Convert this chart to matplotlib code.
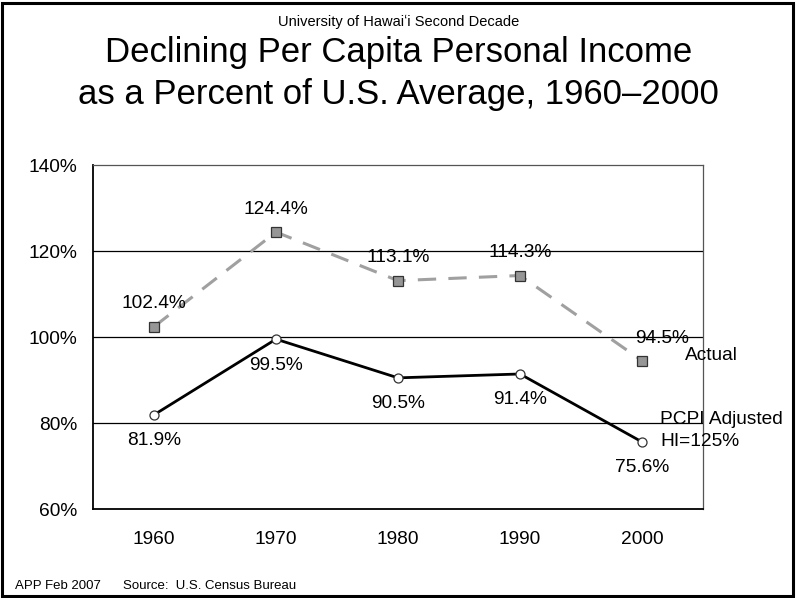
import matplotlib
matplotlib.use('Agg')
from matplotlib import pyplot as plt
from matplotlib.patches import Rectangle

plt.rcParams['font.family'] = ['Liberation Sans', 'DejaVu Sans']

years = ['1960', '1970', '1980', '1990', '2000']
actual = [102.4, 124.4, 113.1, 114.3, 94.5]
adjusted = [81.9, 99.5, 90.5, 91.4, 75.6]
y_ticks = [60, 80, 100, 120, 140]

W, H = 797, 598
fig = plt.figure(figsize=(W / 100, H / 100), dpi=100)
fig.patch.set_facecolor('white')

# slide border
fig.add_artist(Rectangle((2 / W, 2 / H), 1 - 6 / W, 1 - 5 / H, transform=fig.transFigure,
                         fill=False, edgecolor='black', linewidth=2.2))

# plot area in pixels: x 93..703, y 165..509
ax = fig.add_axes([93 / W, (H - 509) / H, 610 / W, 344 / H])
x = list(range(len(years)))

ax.plot(x, actual, color='#a0a0a0', linewidth=2.2, dashes=(6, 4),
        marker='s', markersize=6.5, markerfacecolor='#969696',
        markeredgecolor='#333333', markeredgewidth=0.9, zorder=3)
ax.plot(x, adjusted, color='black', linewidth=2.0,
        marker='o', markersize=6.5, markerfacecolor='white',
        markeredgecolor='#333333', markeredgewidth=0.9, zorder=3)

ax.set_xlim(-0.5, len(years) - 0.5)
ax.set_ylim(60, 140)
ax.set_yticks(y_ticks)
ax.set_yticklabels([f'{v}%' for v in y_ticks])
ax.set_xticks(x)
ax.set_xticklabels(years)
ax.tick_params(axis='both', length=0, labelsize=13.8)
ax.tick_params(axis='x', pad=16)
ax.tick_params(axis='y', pad=11)

for v in [80, 100, 120]:
    ax.axhline(v, color='black', linewidth=0.9, zorder=1)

ax.spines['left'].set_color('black')
ax.spines['bottom'].set_color('black')
ax.spines['left'].set_linewidth(1.3)
ax.spines['bottom'].set_linewidth(1.3)
ax.spines['top'].set_color('#555555')
ax.spines['right'].set_color('#555555')
ax.spines['top'].set_linewidth(0.9)
ax.spines['right'].set_linewidth(0.9)

# data labels
for i, v in enumerate(actual):
    dx, dy = (0, 23) if i < 4 else (20, 22)
    ax.annotate(f'{v}%', (i, v), xytext=(dx, dy), textcoords='offset pixels',
                ha='center', va='center', fontsize=13.8, zorder=4)
for i, v in enumerate(adjusted):
    ax.annotate(f'{v}%', (i, v), xytext=(0, -26), textcoords='offset pixels',
                ha='center', va='center', fontsize=13.8, zorder=4)

fig.text(685 / W, 1 - 355 / H, 'Actual', ha='left', va='center', fontsize=13.8)
fig.text(660 / W, 1 - 419 / H, 'PCPI Adjusted', ha='left', va='center', fontsize=13.8)
fig.text(660 / W, 1 - 441 / H, 'HI=125%', ha='left', va='center', fontsize=13.8)

# titles
fig.text(0.5, 1 - 26 / H, 'University of Hawaiʻi Second Decade', ha='center',
         va='baseline', fontsize=10.5)
fig.text(0.5, 1 - 62 / H, 'Declining Per Capita Personal Income', ha='center',
         va='baseline', fontsize=25)
fig.text(0.5, 1 - 104 / H, 'as a Percent of U.S. Average, 1960–2000', ha='center',
         va='baseline', fontsize=25)

fig.text(15 / W, 1 - 586 / H, 'APP Feb 2007', ha='left', va='center', fontsize=9.5)
fig.text(123 / W, 1 - 586 / H, 'Source:  U.S. Census Bureau', ha='left', va='center',
         fontsize=9.5)

fig.savefig('out.png', dpi=100)
